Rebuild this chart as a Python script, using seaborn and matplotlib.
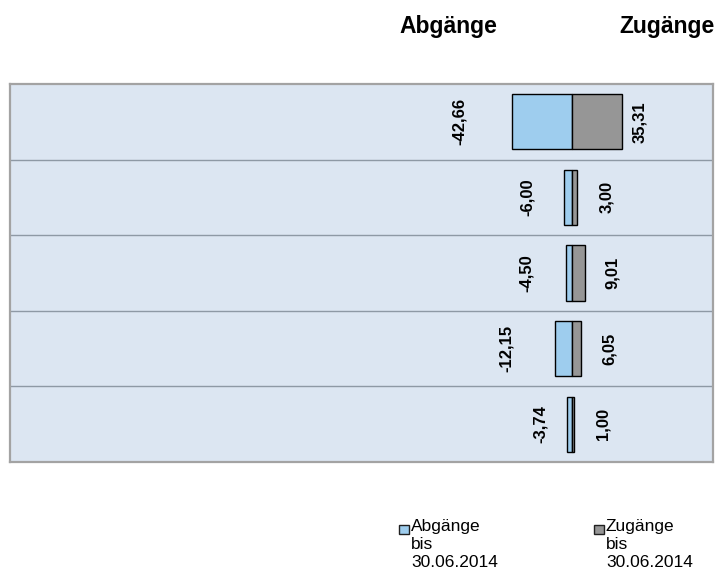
import matplotlib
matplotlib.use("Agg")
import matplotlib.pyplot as plt
import seaborn as sns
import pandas as pd
from matplotlib.patches import Rectangle

# ---- data ----
rows = ["Zeile 1", "Zeile 2", "Zeile 3", "Zeile 4", "Zeile 5"]
abgaenge = [-42.66, -6.00, -4.50, -12.15, -3.74]
zugaenge = [35.31, 3.00, 9.01, 6.05, 1.00]
series_names = ["Abgänge", "Zugänge"]
legend_labels = ["Abgänge\nbis\n30.06.2014", "Zugänge\nbis\n30.06.2014"]

# label offsets (pixels) from bar ends
neg_off = [-53.5, -37, -40, -49, -27]
pos_off = [18, 30, 27, 28, 29]

BLUE = "#9ecdee"
GREY = "#969696"
BG = "#dce6f2"

sns.set_theme(style="white")
plt.rcParams["font.family"] = ["Liberation Sans", "DejaVu Sans"]
plt.rcParams["text.color"] = "black"

W, H = 715, 577
fig = plt.figure(figsize=(W / 100, H / 100), dpi=100)
ax = fig.add_axes([10 / W, (H - 462) / H, (713 - 10) / W, (462 - 84) / H])
ax.set_facecolor(BG)

df = pd.DataFrame({"row": rows, "ab": abgaenge, "zu": zugaenge})
sns.barplot(data=df, x="ab", y="row", orient="h", color=BLUE, width=0.73,
            edgecolor="black", linewidth=1.0, ax=ax, saturation=1)
sns.barplot(data=df, x="zu", y="row", orient="h", color=GREY, width=0.73,
            edgecolor="black", linewidth=1.0, ax=ax, saturation=1)

ax.set_xlim(-400, 100)
ax.set_ylim(len(rows) - 0.5, -0.5)
for i in range(len(rows) - 1):
    ax.axhline(i + 0.5, color="#8e99a5", lw=1.0, zorder=0.5)

ax.set_xticks([])
ax.set_yticks([])
ax.set_xlabel("")
ax.set_ylabel("")
for s in ax.spines.values():
    s.set_visible(True)
    s.set_color("#a3a3a3")
    s.set_linewidth(1.6)

def fmt(v):
    return f"{v:.2f}".replace(".", ",")

for i, (a, z) in enumerate(zip(abgaenge, zugaenge)):
    ax.annotate(fmt(a), xy=(a, i), xytext=(neg_off[i] * 0.72, 0),
                textcoords="offset points", ha="center", va="center",
                rotation=90, fontsize=12, fontweight="bold", color="black")
    ax.annotate(fmt(z), xy=(z, i), xytext=(pos_off[i] * 0.72, 0),
                textcoords="offset points", ha="center", va="center",
                rotation=90, fontsize=12, fontweight="bold", color="black")

# column headers
fig.text(448 / W, 1 - 27 / H, series_names[0], ha="center", va="center",
         fontsize=16.5, fontweight="bold", color="black")
fig.text(667 / W, 1 - 27 / H, series_names[1], ha="center", va="center",
         fontsize=16.5, fontweight="bold", color="black")

# legend (manual, square aligned with first line)
for (sx, col, lab) in [(399, BLUE, legend_labels[0]), (594, GREY, legend_labels[1])]:
    fig.patches.append(Rectangle((sx / W, 1 - 534 / H), 10 / W, 9 / H,
                                 transform=fig.transFigure, facecolor=col,
                                 edgecolor="#202020", linewidth=1.0))
    fig.text((sx + 12) / W, 1 - 519 / H, lab, ha="left", va="top",
             fontsize=12.5, linespacing=1.25, color="black")

fig.savefig("out.png", dpi=100)
